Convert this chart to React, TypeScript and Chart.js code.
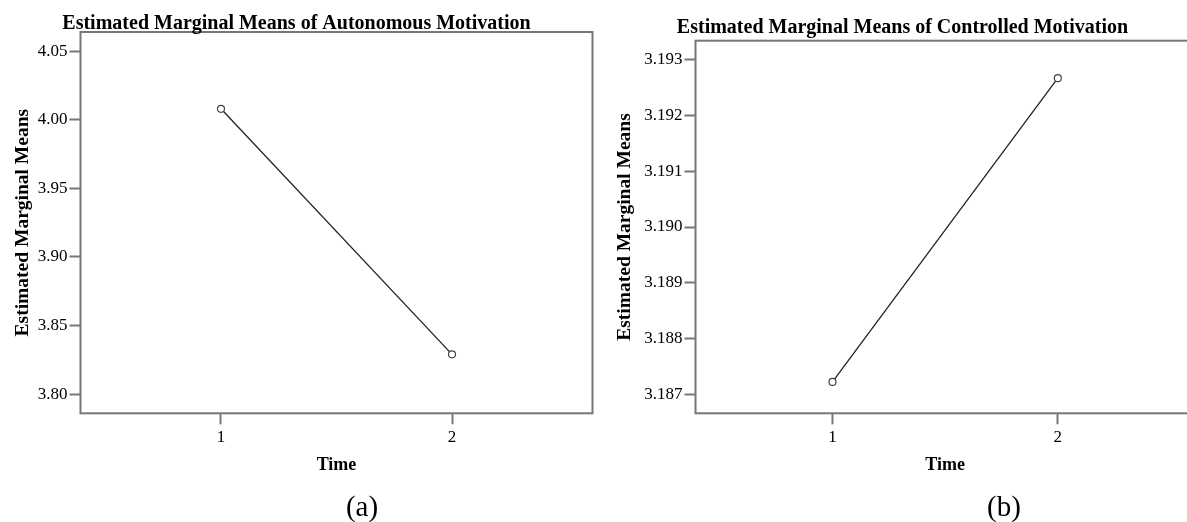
import React, { useEffect, useRef } from "react";
import { Chart, registerables } from "chart.js";

Chart.register(...registerables);

// ---- data ----
const timePoints = [1, 2];
const timeTickLabels = ["1", "2"];
const autonomousMeans = [4.008, 3.829];
const controlledMeans = [3.18723, 3.19266];
const autonomousTicks = [3.8, 3.85, 3.9, 3.95, 4.0, 4.05];
const controlledTicks = [3.187, 3.188, 3.189, 3.19, 3.191, 3.192, 3.193];
const titleA = "Estimated Marginal Means of Autonomous Motivation";
const titleB = "Estimated Marginal Means of Controlled Motivation";
const yAxisTitle = "Estimated Marginal Means";
const xAxisTitle = "Time";
const captionA = "(a)";
const captionB = "(b)";

const FONT = "'Liberation Serif', 'Times New Roman', serif";
const BOX = "#777777";

type PanelProps = {
  left: number;
  width: number;
  height: number;
  values: number[];
  yTicks: number[];
  decimals: number;
  yMin: number;
  yMax: number;
  xMin: number;
  xMax: number;
  padTop: number;
  padRight: number;
  yAxisWidth: number;
  xAxisHeight: number;
  yTitlePad: number;
  xTitlePad: number;
  title: string;
  titleX: number;
  titleY: number;
  caption: string;
  captionX: number;
  captionY: number;
};

function Panel(p: PanelProps) {
  const ref = useRef<HTMLCanvasElement | null>(null);
  useEffect(() => {
    if (!ref.current) return;
    const framePlugin = {
      id: "frame",
      afterDraw(chart: any) {
        const { ctx, chartArea } = chart;
        ctx.save();
        ctx.strokeStyle = BOX;
        ctx.lineWidth = 2;
        ctx.strokeRect(
          chartArea.left,
          chartArea.top,
          chartArea.right - chartArea.left,
          chartArea.bottom - chartArea.top
        );
        ctx.fillStyle = "#000";
        ctx.textAlign = "center";
        ctx.textBaseline = "alphabetic";
        ctx.font = `bold 20px ${FONT}`;
        ctx.fillText(p.title, p.titleX, p.titleY);
        ctx.font = `29px ${FONT}`;
        ctx.fillText(p.caption, p.captionX, p.captionY);
        ctx.restore();
      },
    };
    const chart = new Chart(ref.current, {
      type: "line",
      data: {
        datasets: [
          {
            data: timePoints.map((t, i) => ({ x: t, y: p.values[i] })),
            borderColor: "#222222",
            borderWidth: 1.3,
            pointRadius: 3.5,
            pointBorderWidth: 1.2,
            pointBorderColor: "#444444",
            pointBackgroundColor: "#ffffff",
            pointStyle: "circle",
            fill: false,
            tension: 0,
          },
        ],
      },
      options: {
        animation: false,
        responsive: false,
        devicePixelRatio: 1,
        layout: {
          padding: { left: 0, top: p.padTop, right: p.padRight, bottom: 0 },
        },
        plugins: {
          legend: { display: false },
          tooltip: { enabled: false },
          title: { display: false },
        },
        scales: {
          x: {
            type: "linear",
            min: p.xMin,
            max: p.xMax,
            afterFit: (s: any) => {
              s.height = p.xAxisHeight;
            },
            afterBuildTicks: (s: any) => {
              s.ticks = timePoints.map((v) => ({ value: v }));
            },
            border: { display: false },
            grid: {
              drawOnChartArea: false,
              drawTicks: true,
              tickLength: 11,
              tickColor: BOX,
              tickWidth: 2,
            },
            ticks: {
              padding: 3,
              color: "#000",
              font: { family: FONT, size: 17 },
              callback: (v: any) => timeTickLabels[timePoints.indexOf(Number(v))] ?? "",
            },
            title: {
              display: true,
              text: xAxisTitle,
              color: "#000",
              font: { family: FONT, size: 18, weight: "bold" },
              padding: { top: 0, bottom: p.xTitlePad },
            },
          },
          y: {
            type: "linear",
            min: p.yMin,
            max: p.yMax,
            afterFit: (s: any) => {
              s.width = p.yAxisWidth;
            },
            afterBuildTicks: (s: any) => {
              s.ticks = p.yTicks.map((v) => ({ value: v }));
            },
            border: { display: false },
            grid: {
              drawOnChartArea: false,
              drawTicks: true,
              tickLength: 11,
              tickColor: BOX,
              tickWidth: 2,
            },
            ticks: {
              padding: 2,
              color: "#000",
              font: { family: FONT, size: 17 },
              callback: (v: any) => Number(v).toFixed(p.decimals),
            },
            title: {
              display: true,
              text: yAxisTitle,
              color: "#000",
              font: { family: FONT, size: 19.5, weight: "bold" },
              padding: { top: p.yTitlePad, bottom: 0 },
            },
          },
        },
      },
      plugins: [framePlugin],
    } as any);
    return () => chart.destroy();
  }, []);
  return (
    <canvas
      ref={ref}
      width={p.width}
      height={p.height}
      style={{
        position: "absolute",
        left: p.left,
        top: 0,
        width: p.width,
        height: p.height,
      }}
    />
  );
}

export default function App() {
  return (
    <div
      style={{
        position: "absolute",
        left: 0,
        top: 0,
        width: 1187,
        height: 522,
        overflow: "hidden",
        background: "#ffffff",
      }}
    >
      <Panel
        left={0}
        width={600}
        height={522}
        values={autonomousMeans}
        yTicks={autonomousTicks}
        decimals={2}
        yMin={3.786}
        yMax={4.064}
        xMin={0.392}
        xMax={2.608}
        padTop={32}
        padRight={7.5}
        yAxisWidth={80.5}
        xAxisHeight={108.7}
        yTitlePad={11}
        xTitlePad={46}
        title={titleA}
        titleX={296.5}
        titleY={29}
        caption={captionA}
        captionX={362}
        captionY={516}
      />
      <Panel
        left={600}
        width={600}
        height={522}
        values={controlledMeans}
        yTicks={controlledTicks}
        decimals={3}
        yMin={3.18667}
        yMax={3.19333}
        xMin={0.392}
        xMax={2.608}
        padTop={40.7}
        padRight={3.5}
        yAxisWidth={95.5}
        xAxisHeight={108.7}
        yTitlePad={13.5}
        xTitlePad={46}
        title={titleB}
        titleX={302.5}
        titleY={32.5}
        caption={captionB}
        captionX={404}
        captionY={516}
      />
    </div>
  );
}
